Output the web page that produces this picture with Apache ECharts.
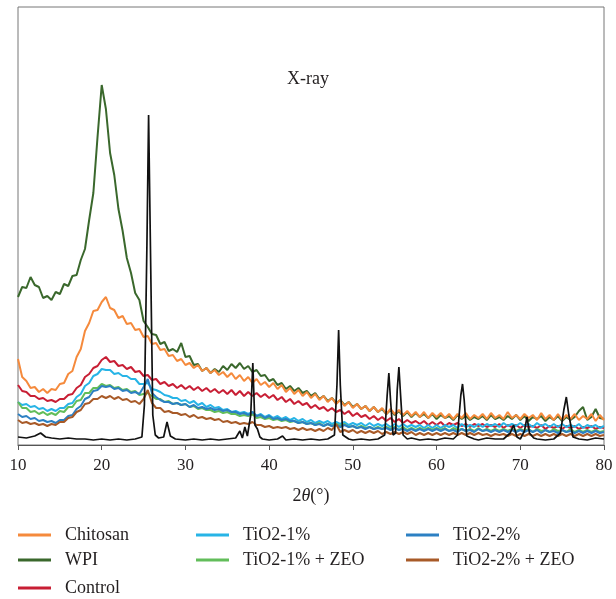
<!DOCTYPE html>
<html>
<head>
<meta charset="utf-8">
<script src="https://cdn.jsdelivr.net/npm/echarts@6/dist/echarts.min.js"></script>
<style>
html,body{margin:0;padding:0;background:#fff;}
#chart{width:616px;height:599px;}
</style>
</head>
<body>
<div id="chart"></div>
<script>
// 2θ sampling grid (degrees)
const angles = [
10,10.5,11,11.5,12,12.5,13,13.5,14,14.5,
15,15.5,16,16.5,17,17.5,18,18.5,19,19.5,
20,20.5,21,21.5,22,22.5,23,23.5,24,24.5,
25,25.5,26,26.5,27,27.5,28,28.5,29,29.5,
30,30.5,31,31.5,32,32.5,33,33.5,34,34.5,
35,35.5,36,36.5,37,37.5,38,38.5,39,39.5,
40,40.5,41,41.5,42,42.5,43,43.5,44,44.5,
45,45.5,46,46.5,47,47.5,48,48.5,49,49.5,
50,50.5,51,51.5,52,52.5,53,53.5,54,54.5,
55,55.5,56,56.5,57,57.5,58,58.5,59,59.5,
60,60.5,61,61.5,62,62.5,63,63.5,64,64.5,
65,65.5,66,66.5,67,67.5,68,68.5,69,69.5,
70,70.5,71,71.5,72,72.5,73,73.5,74,74.5,
75,75.5,76,76.5,77,77.5,78,78.5,79,79.5,
80];

const wpi = [
148,158,157,168,160,158,147,149,145,153,
151,161,159,169,170,185,196,225,252,308,
360,336,292,270,236,214,187,172,152,145,
124,118,111,110,101,103,94,96,93,102,
88,89,80,81,74,77,72,76,73,79,
75,81,77,82,76,79,73,75,69,70,
64,66,60,62,56,59,54,57,52,54,
49,52,46,49,44,47,42,45,40,43,
38,41,36,39,34,38,33,36,31,35,
30,34,29,33,28,32,28,31,27,31,
26,30,27,29,25,30,26,29,25,28,
26,29,25,30,26,28,25,29,26,30,
25,29,24,28,26,29,24,28,25,29,
24,28,25,28,34,38,25,28,36,27,
26];

const chitosan = [
86,68,64,57,58,53,56,52,56,55,
61,62,71,74,88,96,114,122,134,135,
143,148,137,135,127,129,121,122,115,116,
108,109,101,102,95,96,89,90,84,86,
80,82,77,80,74,77,72,75,70,73,
68,72,66,70,64,68,62,66,60,63,
58,62,56,60,53,57,51,55,49,53,
47,51,45,49,43,47,41,45,39,43,
37,41,36,39,34,38,33,37,31,36,
31,35,30,34,29,33,28,33,27,32,
28,32,27,31,26,31,27,32,26,30,
27,31,26,32,27,30,26,33,27,30,
26,31,27,30,25,32,26,30,25,31,
25,30,26,31,25,29,26,31,24,30,
25];

const control = [
60,54,53,49,49,46,47,44,45,43,
46,46,50,51,57,60,68,71,77,79,
85,88,83,84,79,80,76,78,73,74,
69,70,65,66,61,63,59,61,57,60,
56,59,55,58,54,57,53,56,52,55,
51,55,50,54,49,53,49,52,48,51,
47,50,45,48,43,46,41,44,40,42,
37,40,36,38,34,37,33,35,31,34,
29,32,28,30,26,29,25,28,24,27,
23,26,22,25,22,24,21,24,20,23,
20,23,19,22,20,22,19,21,18,21,
19,21,18,20,18,21,17,20,18,20,
17,20,18,19,17,20,16,19,17,19,
16,19,17,19,16,18,17,19,16,18,
17];

const tio1 = [
43,40,41,38,39,36,37,34,36,34,
37,37,41,42,48,51,59,62,69,71,
76,75,75,71,72,69,69,66,66,61,
61,62,56,55,53,50,49,47,47,44,
45,42,44,40,42,38,40,37,38,35,
36,33,34,32,33,31,33,29,31,28,
30,27,29,26,28,25,27,24,26,23,
25,22,24,22,24,21,23,21,23,20,
22,20,22,19,22,19,21,19,21,18,
21,18,21,18,20,18,20,17,20,17,
20,17,20,18,20,17,21,18,20,18,
21,18,21,19,21,18,22,19,21,19,
22,19,21,18,22,19,21,18,21,18,
21,18,20,18,21,17,20,18,20,17,
19];

const tio1zeo = [
43,37,37,33,34,31,33,30,32,30,
34,33,38,38,44,45,52,52,57,57,
61,59,60,57,58,55,56,53,54,50,
51,52,49,46,46,43,44,41,42,40,
41,38,39,36,37,35,35,33,34,32,
33,31,31,29,30,29,31,27,28,26,
27,25,26,24,25,23,24,22,23,21,
22,20,22,19,21,19,21,19,21,18,
19,17,19,17,18,16,18,16,18,16,
18,15,18,15,17,15,17,15,17,15,
17,15,17,14,17,15,16,14,16,14,
17,14,16,14,16,14,16,14,16,14,
16,14,16,13,16,14,15,13,16,14,
15,13,16,13,15,13,15,13,15,13,
14];

const tio2 = [
31,28,29,26,27,24,25,23,24,22,
25,25,29,30,36,39,46,48,54,55,
59,58,59,56,57,54,55,52,53,51,
58,66,52,48,45,43,43,41,42,40,
41,38,40,37,38,36,37,35,36,34,
35,33,33,31,32,30,33,29,30,27,
29,26,27,25,26,24,24,22,23,21,
22,20,21,19,21,19,20,18,20,18,
19,17,18,16,18,16,17,16,17,15,
17,15,16,14,16,14,16,14,16,14,
16,14,16,14,15,13,16,14,15,13,
16,14,15,13,15,13,15,13,15,13,
15,13,15,13,15,12,15,13,14,12,
15,13,14,12,14,12,14,12,14,12,
13];

const tio2zeo = [
25,22,23,21,22,20,21,19,21,20,
23,23,27,28,33,35,41,42,46,46,
49,47,49,46,48,45,46,43,44,41,
46,55,42,37,37,33,34,32,32,30,
31,28,30,27,28,26,27,25,26,23,
24,22,23,21,22,21,23,20,20,18,
19,17,18,17,18,16,17,15,17,15,
16,14,16,14,17,15,21,13,15,13,
15,12,14,12,14,12,14,11,13,11,
13,11,13,11,13,10,12,10,12,10,
12,10,12,10,12,10,12,10,12,10,
12,10,11,9,11,10,11,9,11,9,
11,9,11,9,11,9,11,9,11,9,
11,9,11,9,11,9,11,9,11,9,
10];

// crystalline reference pattern (sharp peaks), own angle list
const peakAngles = [10,11,12,12.7,13.3,14,15,16,17,18,19,20,21,22,23,24,24.8,25.1,25.4,25.6,25.85,26.1,26.4,26.8,27.4,27.8,28.2,28.8,30,31,32,33,34,35,36,36.5,36.8,37.1,37.4,37.8,38.05,38.3,38.6,38.9,39.2,40,41,41.6,42,43,44,45,46,47,47.8,48.1,48.3,48.5,48.8,49.5,50,51,52,53,53.8,54.1,54.3,54.5,54.8,55.1,55.3,55.5,55.7,56,56.5,57,58,59,60,61,62,62.5,62.9,63.1,63.3,63.6,64.5,65,66,67,68,68.8,69.2,69.6,70,70.5,70.8,71.1,71.6,72,73,74,74.8,75.2,75.5,75.8,76.3,77,78,79,80];
const peakValues = [8,7,9,12,8,7,6,7,6,6,5,6,5,6,5,6,8,40,200,330,180,30,10,7,8,23,9,6,5,6,5,6,5,6,7,14,7,18,9,30,82,20,16,8,6,5,6,9,5,6,5,6,5,6,10,60,115,60,10,6,5,6,5,6,10,50,72,45,10,12,55,78,50,10,6,7,5,6,5,7,6,10,50,61,45,9,6,5,7,6,6,12,20,8,6,14,28,12,7,6,5,6,12,35,48,30,8,6,5,7,6];

const seriesNames = ['WPI','Chitosan','Control','TiO2-1%','TiO2-1% + ZEO','TiO2-2%','TiO2-2% + ZEO'];
const seriesValues = [wpi, chitosan, control, tio1, tio1zeo, tio2, tio2zeo];
const seriesColors = ['#3a682c','#f58a3c','#c81e34','#27b4e6','#62bd5a','#2c80c3','#a85a28'];

const xTicks = [10,20,30,40,50,60,70,80];

// legend layout: [name, left, top]
const legendSlots = [
  ['Chitosan', 18, 526], ['WPI', 18, 551], ['Control', 18, 579],
  ['TiO2-1%', 196, 526], ['TiO2-1% + ZEO', 196, 551],
  ['TiO2-2%', 406, 526], ['TiO2-2% + ZEO', 406, 551]
];

const serif = 'Liberation Serif';

const series = seriesNames.map((name, k) => ({
  name: name,
  type: 'line',
  symbol: 'none',
  silent: true,
  data: angles.map((a, i) => [a, seriesValues[k][i]]),
  lineStyle: {width: 2, color: seriesColors[k]},
  itemStyle: {color: seriesColors[k]},
  z: 2 + k
}));
series.push({
  name: 'TiO2',
  type: 'line',
  symbol: 'none',
  silent: true,
  data: peakAngles.map((a, i) => [a, peakValues[i]]),
  lineStyle: {width: 1.7, color: '#111'},
  itemStyle: {color: '#111'},
  z: 20
});

const legends = legendSlots.map(s => ({
  orient: 'horizontal',
  left: s[1],
  top: s[2],
  padding: 0,
  itemWidth: 33,
  itemHeight: 3,
  icon: 'rect',
  data: [s[0]],
  selectedMode: false,
  textStyle: {fontFamily: serif, fontSize: 18, color: '#231f20', lineHeight: 18, padding: [0,0,0,9]}
}));

const chart = echarts.init(document.getElementById('chart'), null, {renderer: 'canvas'});
chart.setOption({
  animation: false,
  backgroundColor: '#fff',
  title: {
    text: 'X-ray',
    left: 'center',
    top: 65,
    textStyle: {fontFamily: serif, fontSize: 18, fontWeight: 'normal', color: '#231f20'}
  },
  legend: legends,
  grid: {
    left: 18, right: 12, top: 7, bottom: 154,
    show: true, borderColor: '#777', borderWidth: 1, containLabel: false
  },
  xAxis: {
    type: 'value',
    min: 10, max: 80, interval: 10,
    axisLine: {show: true, lineStyle: {color: '#555', width: 1}},
    axisTick: {show: true, inside: false, length: 5, lineStyle: {color: '#555'}},
    splitLine: {show: false},
    axisLabel: {
      fontFamily: serif, fontSize: 17, color: '#231f20', margin: 12,
      formatter: v => xTicks.includes(v) ? String(v) : ''
    },
    name: '2{i|θ}(°)',
    nameLocation: 'middle',
    nameGap: 42,
    nameTextStyle: {
      fontFamily: serif, fontSize: 18, color: '#231f20',
      rich: {i: {fontFamily: serif, fontSize: 18, fontStyle: 'italic', color: '#231f20'}}
    }
  },
  yAxis: {
    type: 'value',
    min: 0, max: 438,
    show: false,
    splitLine: {show: false}
  },
  series: series
});
</script>
</body>
</html>
